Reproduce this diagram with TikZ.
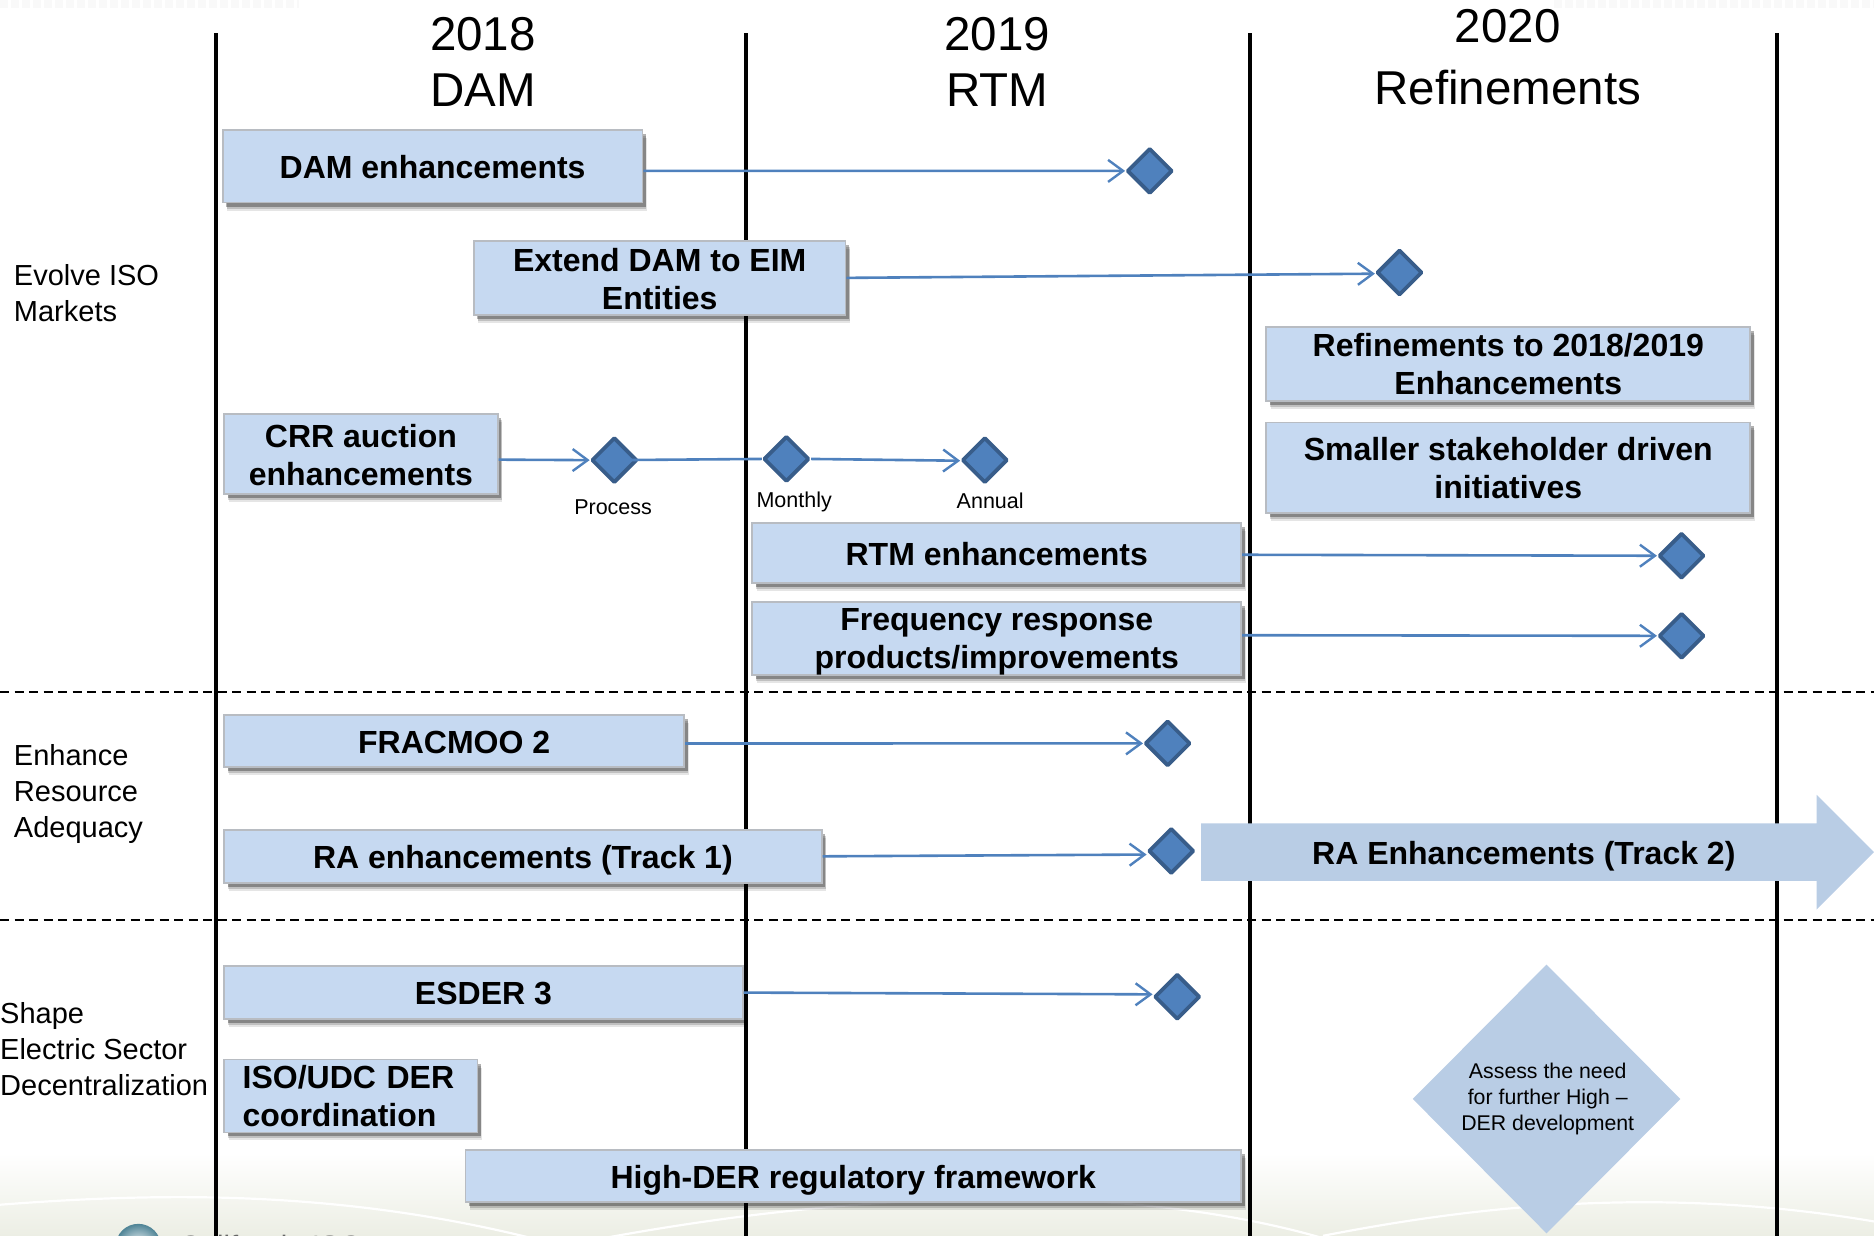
\documentclass[tikz,border=0pt]{standalone}
\usepackage{fontspec}
\setmainfont{Liberation Sans}
\usetikzlibrary{shapes.geometric,shadows,arrows.meta,calc}
\definecolor{boxfill}{HTML}{C6D9F1}
\definecolor{boxline}{HTML}{B8BCC2}
\definecolor{msfill}{HTML}{4F81BD}
\definecolor{msline}{HTML}{385D8A}
\definecolor{paleblue}{HTML}{B9CDE5}
\definecolor{footer}{HTML}{ECEEE4}
\definecolor{logoblue}{HTML}{4F8496}
\tikzset{
  x=1.19515pt,y=-1.19515pt,
  gridline/.style={line width=4.2pt,black},
  sepline/.style={line width=1.9pt,black,dash pattern=on 9pt off 5.5pt},
  softshadow/.style={
    drop shadow={shadow xshift=4.5pt,shadow yshift=-8pt,fill=black,opacity=.10},
    drop shadow={shadow xshift=4pt,shadow yshift=-6pt,fill=black,opacity=.16},
    drop shadow={shadow xshift=3.5pt,shadow yshift=-4pt,fill=black,opacity=.30}},
  taskbox/.style={softshadow,draw=boxline,line width=1.8pt,fill=boxfill,inner sep=0pt,align=center,
    font=\fontsize{32}{38}\selectfont\bfseries},
  milestone/.style={diamond,aspect=1,draw=msline,fill=msfill,line width=3.8pt,line join=round,
    inner sep=0pt,minimum width=45.5pt,minimum height=45.5pt},
  conn/.style={draw=msfill,line width=2.6pt,-{Straight Barb[length=15pt,width=22pt,line width=2.4pt]}},
  plainconn/.style={draw=msfill,line width=2.6pt},
  header/.style={align=center,font=\fontsize{47.5}{56}\selectfont},
  side/.style={align=left,anchor=west,inner sep=0pt,font=\fontsize{29}{36}\selectfont},
  small/.style={font=\fontsize{21.5}{26}\selectfont}
}
\newcommand{\tbox}[6]{\node[taskbox,#6,minimum width=(#3-1)*1.19515pt,minimum height=(#4-1)*1.19515pt] (#1) at (#2,#5) }
\newcommand{\dn}[1]{\rule{0pt}{#1pt}}
\begin{document}
\begin{tikzpicture}
\useasboundingbox (0,0) rectangle (1568,1034);
\clip (0,0) rectangle (1568,1034);
% faint strip along the top edge
\coordinate (t1) at (0,3); \coordinate (t2) at (250,3); \coordinate (t3) at (1300,3); \coordinate (t4) at (1568,3);
\draw[black!2.5,line width=9pt,dash pattern=on 8pt off 3pt] (t1)--(t2) (t3)--(t4);
% footer background
\shade[top color=white,bottom color=footer] (0,965) rectangle (1568,1034);
\draw[white,line width=2.2pt] (0,1008) .. controls (130,998) and (280,995) .. (445,1036);
\draw[white,line width=2.2pt] (505,1036) .. controls (700,1000) and (930,985) .. (1107,1036);
\draw[white,line width=2.2pt] (1107,1034) .. controls (1220,1012) and (1380,990) .. (1568,1022);
% logo
\shade[inner color=white,outer color=logoblue] (115.7,1043) circle (19);
\node[anchor=base west,inner sep=0pt,text=black!60,font=\fontsize{29.4}{32}\selectfont] (logo) at (150,1051) {California ISO};
% grid
\coordinate (g1t) at (181,28); \coordinate (g1b) at (181,1034);
\coordinate (g2t) at (624,28); \coordinate (g2b) at (624,1034);
\coordinate (g3t) at (1046,28); \coordinate (g3b) at (1046,1034);
\coordinate (g4t) at (1487,28); \coordinate (g4b) at (1487,1034);
\draw[gridline] (g1t)--(g1b); \draw[gridline] (g2t)--(g2b);
\draw[gridline] (g3t)--(g3b); \draw[gridline] (g4t)--(g4b);
\coordinate (s1l) at (0,579); \coordinate (s1r) at (1568,579);
\coordinate (s2l) at (0,770); \coordinate (s2r) at (1568,770);
\draw[sepline] (s1l)--(s1r); \draw[sepline] (s2l)--(s2r);
% headers
\node[header] (h1) at (404,52) {2018\\DAM};
\node[header] (h2) at (834.5,52) {2019\\RTM};
\node[header,font=\fontsize{47.5}{62}\selectfont] (h3) at (1261.5,48) {2020\\Refinements};
% side labels
\node[side] (l1) at (11.5,245) {Evolve ISO\\Markets};
\node[side] (l2) at (11.5,664) {Enhance\\Resource\\Adequacy};
\node[side] (l3) at (0,878) {Shape\\Electric Sector\\Decentralization};
% boxes
\tbox{dam}{362}{352}{62}{139}{} {\dn{25.7}DAM enhancements};
\tbox{ext}{552}{312}{63}{232.5}{} {\dn{25.7}Extend DAM to EIM\\Entities};
\tbox{crr}{302}{230}{68}{380}{} {\dn{25.7}CRR auction\\enhancements};
\tbox{ref}{1262}{406}{63}{304.5}{} {Refinements to 2018/2019\\Enhancements};
\tbox{sma}{1262}{406}{77}{391.5}{} {Smaller stakeholder driven\\initiatives};
\tbox{rtm}{834}{410}{51}{462.5}{} {\dn{26.5}RTM enhancements};
\tbox{frq}{834}{410}{62}{534}{} {\dn{23.5}Frequency response\\\smash{products/improvements}};
\tbox{fra}{380}{386}{44}{620}{} {\dn{25.7}FRACMOO 2};
\tbox{ra1}{437.5}{501}{45}{716.5}{} {\dn{30.5}RA enhancements (Track 1)};
\tbox{esd}{404.5}{435}{45}{830.5}{} {\dn{24.5}ESDER 3};
\tbox{iso}{293.5}{213}{62}{917}{align=left,text width=181*1.19515pt} {ISO/UDC DER\\coordination};
\tbox{hig}{714}{650}{44}{984}{} {\dn{31}High-DER regulatory framework};
% milestones
\node[milestone] (m1) at (962,143) {};
\node[milestone] (m2) at (1171,228) {};
\node[milestone] (m3) at (514,385) {};
\node[milestone] (m4) at (658,384) {};
\node[milestone] (m5) at (824,385) {};
\node[milestone] (m6) at (1407,465) {};
\node[milestone] (m7) at (1407,532) {};
\node[milestone] (m8) at (977,622) {};
\node[milestone] (m9) at (980,712) {};
\node[milestone] (m10) at (985,834) {};
% connectors
\draw[conn] ([yshift=-4.8pt]dam.east) -- (m1.west);
\draw[conn] (ext.east) -- ([yshift=-1.2pt]m2.west);
\draw[conn] ([yshift=-5.5pt]crr.east) -- (m3.west);
\draw[plainconn] (m3.center) -- (m4.west);
\draw[conn] (m4.east) -- ([yshift=-.6pt]m5.west);
\draw[conn] ([yshift=-2pt]rtm.east) -- (m6.west);
\draw[conn] ([yshift=3pt]frq.east) -- (m7.west);
\draw[conn] ([yshift=-2.5pt]fra.east) -- (m8.west);
\draw[conn] (ra1.east) -- ([yshift=-3.6pt]m9.west);
\draw[conn] (esd.east) -- ([yshift=2.4pt]m10.west);
% small labels
\node[small] (p1) at (513,424) {Process};
\node[small] (p2) at (664.5,420) {Monthly};
\node[small] (p3) at (828.5,419) {Annual};
% track 2 arrow
\fill[paleblue] (1005,689) -- (1520,689) -- (1520,665) -- (1568,713) -- (1520,761) -- (1520,737) -- (1005,737) -- cycle;
\node[font=\fontsize{32}{38}\selectfont\bfseries] (ra2) at (1275,716) {RA Enhancements (Track 2)};
% assess diamond
\node[diamond,aspect=1,fill=paleblue,inner sep=0pt,minimum width=224*1.19515pt,minimum height=225*1.19515pt] (big) at (1294,919.5) {};
\node[align=center,font=\fontsize{21.3}{25.6}\selectfont] (bigt) at (1295,919.5) {Assess the need\\for further High –\\DER development};
\end{tikzpicture}
\end{document}
